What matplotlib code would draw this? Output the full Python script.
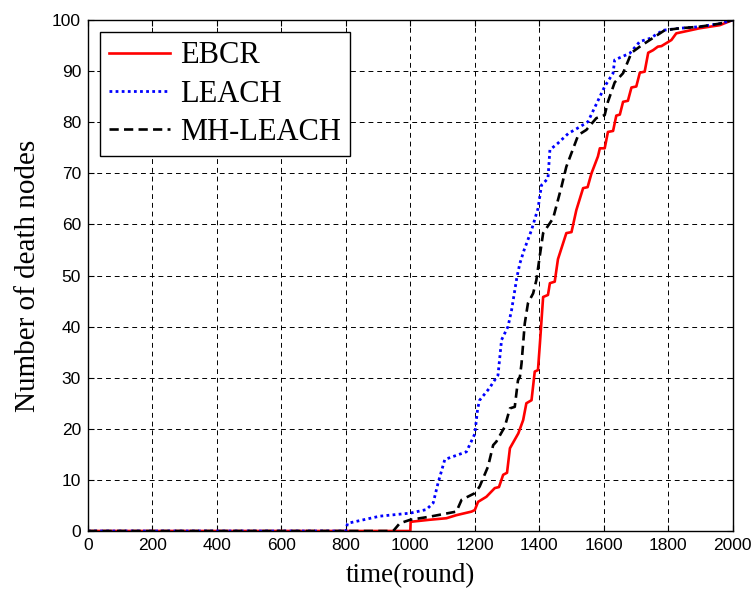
import matplotlib
matplotlib.use("Agg")
import matplotlib.pyplot as plt

# EBCR (red, solid)
ebcr_x = [0, 1000, 1001, 1060, 1112, 1143, 1190, 1200, 1210, 1236, 1262, 1275, 1288, 1300,
          1309, 1335, 1350, 1360, 1376, 1386, 1396, 1402, 1412, 1427, 1433, 1448, 1458,
          1484, 1500, 1515, 1536, 1550, 1562, 1582, 1588, 1603, 1613, 1629, 1639, 1650,
          1660, 1675, 1686, 1701, 1712, 1727, 1738, 1753, 1768, 1779, 1810, 1825, 1898,
          1960, 2000]
ebcr_y = [0, 0, 1.8, 2.2, 2.5, 3.1, 3.8, 4.1, 5.7, 6.7, 8.4, 8.6, 11, 11.4,
          16.2, 19.1, 21.7, 25, 25.6, 31.2, 31.5, 36.7, 45.8, 46.2, 48.5, 48.8, 53.2,
          58.3, 58.5, 62.8, 67.1, 67.3, 70, 73.3, 74.9, 74.9, 78.1, 78.3, 81.3, 81.5,
          84, 84.2, 86.8, 87, 89.7, 89.9, 93.6, 94.1, 94.8, 94.9, 96.1, 97.4, 98.4,
          99, 100]

# LEACH (blue, dotted)
leach_x = [0, 800, 805, 905, 1000, 1050, 1071, 1086, 1107, 1174, 1200, 1209, 1215, 1246,
           1256, 1272, 1283, 1303, 1314, 1331, 1340, 1353, 1376, 1396, 1407, 1427, 1433,
           1458, 1490, 1526, 1551, 1588, 1603, 1629, 1634, 1681, 1712, 1743, 1784, 1836,
           1898, 1960, 2000]
leach_y = [0, 0, 1.5, 2.9, 3.5, 4.2, 5.5, 9.4, 14, 15.5, 19, 24, 25.6, 28,
           29, 30.5, 37.4, 40, 43.2, 49.8, 52.4, 55, 58.9, 63.1, 67.7, 69, 74.6,
           75.9, 77.8, 79.1, 80.1, 85, 87, 89.6, 92.2, 93.5, 95.8, 96.4, 98, 98.4,
           98.7, 99.3, 100]

# MH-LEACH (black, dashed)
mh_x = [0, 947, 967, 1000, 1060, 1143, 1159, 1200, 1215, 1241, 1257, 1267, 1293, 1309,
        1324, 1334, 1340, 1345, 1355, 1365, 1381, 1391, 1402, 1412, 1443, 1469, 1484,
        1521, 1546, 1577, 1603, 1613, 1634, 1660, 1686, 1712, 1743, 1789, 1836, 1898,
        1960, 2000]
mh_y = [0, 0, 1.5, 2.2, 2.8, 3.8, 6.1, 7.4, 8.7, 12.6, 16.8, 17.5, 20.4, 24,
        24.3, 29.5, 30.2, 32.8, 40.6, 44.6, 46.5, 49.1, 54, 58.3, 61.2, 67.4, 71.3,
        77.5, 78.5, 80.8, 81.4, 84, 87.8, 89.6, 93.6, 94.8, 96.1, 98, 98.4, 98.7,
        99.3, 100]

xticks = list(range(0, 2001, 200))
yticks = list(range(0, 101, 10))

plt.rcParams["font.family"] = ["Liberation Sans", "DejaVu Sans"]

fig = plt.figure(figsize=(7.54, 5.90), dpi=100)
fig.patch.set_facecolor("white")
ax = fig.add_axes([0.1167, 0.1, 0.855, 0.866])

ax.plot(ebcr_x, ebcr_y, color="red", lw=1.9, ls="-", label="EBCR")
ax.plot(leach_x, leach_y, color="blue", lw=2.0, ls=(0, (1, 1.2)), label="LEACH")
ax.plot(mh_x, mh_y, color="black", lw=1.9, ls=(0, (3.5, 2)), label="MH-LEACH")

ax.set_xlim(0, 2000)
ax.set_ylim(0, 100)
ax.set_xticks(xticks)
ax.set_yticks(yticks)
ax.tick_params(direction="in", top=True, right=True, length=4, width=0.8,
               labelsize=12.5, pad=5)
ax.grid(True, color="black", ls=(0, (5, 4)), lw=0.7)
for sp in ax.spines.values():
    sp.set_linewidth(1.0)
    sp.set_color("black")

ax.set_xlabel("time(round)", fontsize=19.5, family="Liberation Serif", labelpad=7)
ax.set_ylabel("Number of death nodes", fontsize=21, family="Liberation Serif", labelpad=8)

leg = ax.legend(loc="upper left", prop={"family": "Liberation Serif", "size": 22},
                fancybox=False, edgecolor="black", framealpha=1,
                handlelength=2.0, handletextpad=0.3, labelspacing=0.3,
                borderaxespad=0.4, borderpad=0.3)
leg.get_frame().set_linewidth(1.0)

fig.savefig("out.png", dpi=100)
